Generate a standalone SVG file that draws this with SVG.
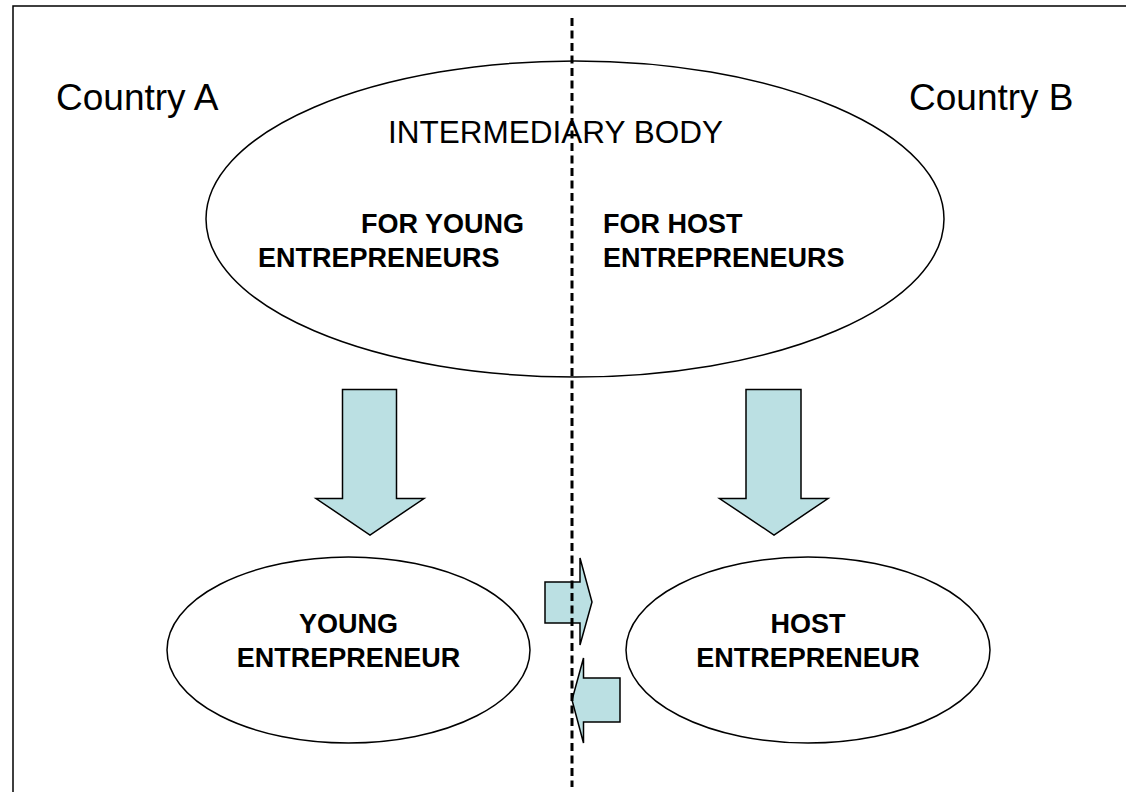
<svg xmlns="http://www.w3.org/2000/svg" width="1126" height="792" viewBox="0 0 1126 792">
  <style>
    .shape { fill: #FFFFFF; stroke: #000000; stroke-width: 1.5; }
    .arrow { fill: #BBE0E3; stroke: #000000; stroke-width: 1.5; stroke-linejoin: miter; }
    .label { font-family: "Liberation Sans", Arial, sans-serif; fill: #000000; }
    .bold { font-family: "Liberation Sans", Arial, sans-serif; font-weight: bold; font-size: 27px; fill: #000000; }
  </style>
  <rect x="0" y="0" width="1126" height="792" fill="#FFFFFF"/>
  <rect id="frame" x="13" y="6" width="1300" height="1000" fill="none" stroke="#000000" stroke-width="1.5"/>

  <text class="label" x="56" y="110" font-size="37">Country A</text>
  <text class="label" x="909" y="110" font-size="37">Country B</text>

  <g id="intermediary-body">
    <ellipse class="shape" cx="575" cy="219" rx="369" ry="158"/>
    <text class="label" x="388" y="142.5" font-size="31.5">INTERMEDIARY BODY</text>
    <text class="bold" x="524" y="233" text-anchor="end">FOR YOUNG</text>
    <text class="bold" x="258" y="267">ENTREPRENEURS</text>
    <text class="bold" x="603" y="233">FOR HOST</text>
    <text class="bold" x="603" y="267">ENTREPRENEURS</text>
  </g>

  <g id="young-entrepreneur">
    <ellipse class="shape" cx="348.5" cy="650" rx="181.5" ry="93"/>
    <text class="bold" x="348.5" y="633" text-anchor="middle">YOUNG</text>
    <text class="bold" x="348.5" y="667" text-anchor="middle">ENTREPRENEUR</text>
  </g>

  <g id="host-entrepreneur">
    <ellipse class="shape" cx="808" cy="650" rx="182" ry="93"/>
    <text class="bold" x="808" y="633" text-anchor="middle">HOST</text>
    <text class="bold" x="808" y="667" text-anchor="middle">ENTREPRENEUR</text>
  </g>

  <g id="connectors">
    <polygon class="arrow" points="342.5,389.5 396.5,389.5 396.5,498.5 424,498.5 370,535 316,498.5 342.5,498.5"/>
    <polygon class="arrow" points="746,389.5 801,389.5 801,498.5 828,498.5 774,535 719.5,498.5 746,498.5"/>
    <polygon class="arrow" points="545,582 580,582 580,558 592,602 580,645 580,623 545,623"/>
    <polygon class="arrow" points="620,678 583.5,678 583.5,658 572,700 583.5,743 583.5,722 620,722"/>
  </g>

  <line id="border-line" x1="572" y1="18" x2="572" y2="787" stroke="#000000" stroke-width="3" stroke-dasharray="8 4.5"/>
</svg>
